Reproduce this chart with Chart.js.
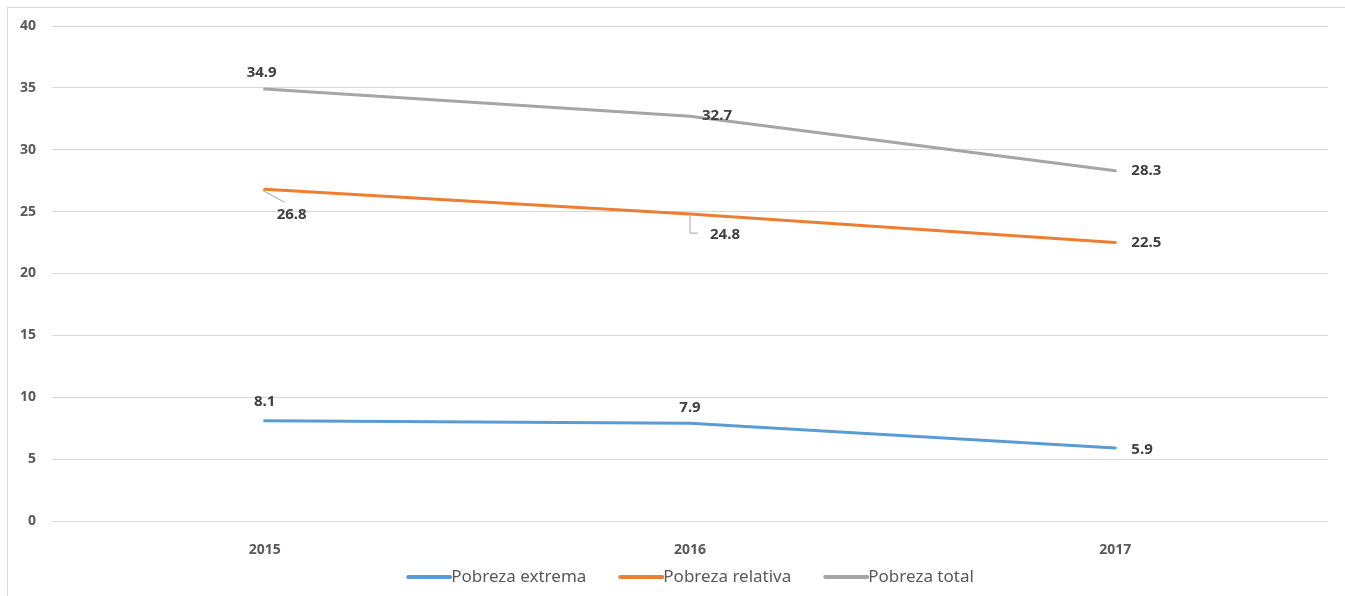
<!DOCTYPE html>
<html>
<head>
<meta charset="utf-8">
<script src="https://cdn.jsdelivr.net/npm/chart.js@4"></script>
<style>
  html, body { margin: 0; padding: 0; background: #fff; overflow: hidden; }
  #frame { position: absolute; left: 7px; top: 7px; width: 1400px; height: 700px; border: 1px solid #d9d9d9; }
  #wrap { position: absolute; left: 0; top: 0; width: 1345px; height: 596px; }
</style>
</head>
<body>
<div id="frame"></div>
<div id="wrap"><canvas id="linhas"></canvas></div>
<script>
// dados
var anos = ['2015', '2016', '2017'];
var pobrezaExtrema = [8.1, 7.9, 5.9];
var pobrezaRelativa = [26.8, 24.8, 22.5];
var pobrezaTotal = [34.9, 32.7, 28.3];
var nomesSeries = ['Pobreza extrema', 'Pobreza relativa', 'Pobreza total'];

var cores = ['#5b9bd5', '#ed7d31', '#a5a5a5'];

// posição dos rótulos em relação ao ponto: dx, dy, alinhamento, linha guia
var posRotulos = [
    [[0, -19, 'center'], [0, -16, 'center'], [16, 2, 'left']],
    [[12, 25, 'left', 'diag'], [20, 21, 'left', 'elbow'], [16, 0, 'left']],
    [[-3, -16, 'center'], [12, -1, 'left'], [16, 0, 'left']]
];

var rotulosPlugin = {
    id: 'rotulos',
    afterDatasetsDraw: function(chart) {
        var ctx = chart.ctx;
        ctx.save();
        ctx.font = 'bold 15px "Noto Sans", sans-serif';
        ctx.fillStyle = '#404040';
        ctx.textBaseline = 'middle';
        chart.data.datasets.forEach(function(ds, i) {
            var meta = chart.getDatasetMeta(i);
            meta.data.forEach(function(pt, j) {
                var p = posRotulos[i][j];
                var tx = pt.x + p[0];
                var ty = pt.y + p[1];
                if (p[3] === 'diag') {
                    ctx.strokeStyle = '#a6a6a6';
                    ctx.lineWidth = 1;
                    ctx.beginPath();
                    ctx.moveTo(pt.x - 2, pt.y + 1);
                    ctx.lineTo(pt.x + 20, pt.y + 13);
                    ctx.stroke();
                }
                if (p[3] === 'elbow') {
                    ctx.strokeStyle = '#a6a6a6';
                    ctx.lineWidth = 1;
                    ctx.beginPath();
                    ctx.moveTo(pt.x, pt.y + 2);
                    ctx.lineTo(pt.x, pt.y + 19);
                    ctx.lineTo(pt.x + 8, pt.y + 19);
                    ctx.stroke();
                }
                ctx.textAlign = p[2];
                ctx.fillText(ds.data[j].toFixed(1), tx, ty);
            });
        });
        ctx.restore();
    }
};

var legendaPlugin = {
    id: 'legenda',
    afterDraw: function(chart) {
        var ctx = chart.ctx;
        var area = chart.chartArea;
        ctx.save();
        ctx.font = '17px "Noto Sans", sans-serif';
        ctx.textBaseline = 'middle';
        var larguraLinha = 45, gap = 32;
        var larguras = nomesSeries.map(function(n) { return ctx.measureText(n).width; });
        var total = 0;
        larguras.forEach(function(w, i) { total += larguraLinha + w + (i > 0 ? gap : 0); });
        var x = (area.left + area.right) / 2 - total / 2;
        var y = 577;
        nomesSeries.forEach(function(n, i) {
            ctx.strokeStyle = cores[i];
            ctx.lineWidth = 4;
            ctx.lineCap = 'round';
            ctx.beginPath();
            ctx.moveTo(x + 2, y);
            ctx.lineTo(x + larguraLinha - 1, y);
            ctx.stroke();
            ctx.fillStyle = '#595959';
            ctx.textAlign = 'left';
            ctx.fillText(n, x + larguraLinha, y);
            x += larguraLinha + larguras[i] + gap;
        });
        ctx.restore();
    }
};

var ctx = document.getElementById('linhas').getContext('2d');

new Chart(ctx, {
    type: 'line',
    data: {
        labels: anos,
        datasets: [
            { label: nomesSeries[0], data: pobrezaExtrema, borderColor: cores[0], backgroundColor: cores[0] },
            { label: nomesSeries[1], data: pobrezaRelativa, borderColor: cores[1], backgroundColor: cores[1] },
            { label: nomesSeries[2], data: pobrezaTotal, borderColor: cores[2], backgroundColor: cores[2] }
        ]
    },
    options: {
        responsive: true,
        maintainAspectRatio: false,
        animation: false,
        layout: { padding: { left: 0, right: 17, top: 26, bottom: 40 } },
        elements: {
            line: { borderWidth: 3, tension: 0, borderCapStyle: 'round' },
            point: { radius: 0, hoverRadius: 0 }
        },
        scales: {
            x: {
                offset: true,
                grid: { display: false },
                border: { display: false },
                ticks: { color: '#595959', font: { family: 'Noto Sans', size: 14, weight: 'bold' }, padding: 13 },
                afterFit: function(scale) { scale.height = 35; }
            },
            y: {
                min: 0,
                max: 40,
                ticks: { stepSize: 5, color: '#595959', font: { family: 'Noto Sans', size: 14, weight: 'bold' }, padding: 16 },
                grid: { color: '#d9d9d9', lineWidth: 1, drawTicks: false },
                border: { display: false },
                afterFit: function(scale) { scale.width = 52; }
            }
        },
        plugins: {
            legend: { display: false },
            tooltip: { enabled: false }
        }
    },
    plugins: [rotulosPlugin, legendaPlugin]
});
</script>
</body>
</html>
